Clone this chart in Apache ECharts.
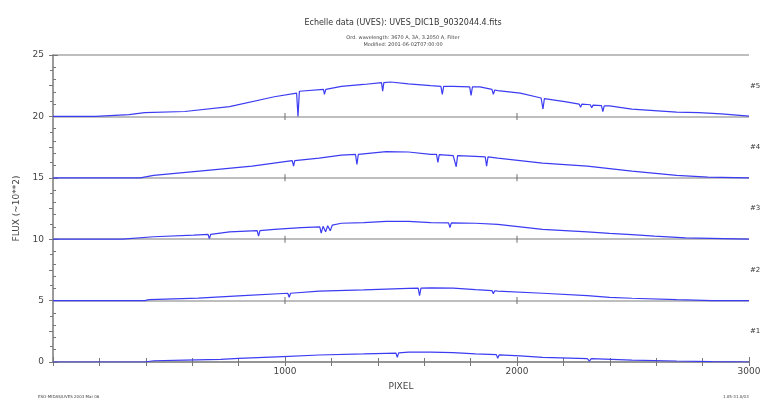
<!DOCTYPE html>
<html>
<head>
<meta charset="utf-8">
<script src="https://cdn.jsdelivr.net/npm/echarts@6/dist/echarts.min.js"></script>
<style>
  html, body { margin: 0; padding: 0; background: #fff; }
  #chart { width: 773px; height: 406px; }
</style>
</head>
<body>
<div id="chart"></div>
<script>
// Extracted echelle orders, flux offset by 5 units per order: [pixel, flux]
const order1 = [
  [0, 0.0], [395, 0.0], [434, 0.1], [568, 0.16], [723, 0.22], [800, 0.3], [992, 0.44],
  [1147, 0.57], [1339, 0.66], [1436, 0.71], [1478, 0.73], [1484, 0.38], [1490, 0.74],
  [1532, 0.8], [1628, 0.8], [1725, 0.77], [1821, 0.66], [1911, 0.6], [1917, 0.3],
  [1923, 0.58], [2014, 0.5], [2110, 0.38], [2303, 0.27], [2312, 0.08], [2320, 0.27],
  [2495, 0.16], [2688, 0.08], [2842, 0.03], [3000, 0.0]
];
const order2 = [
  [0, 5.0], [395, 5.0], [414, 5.08], [626, 5.2], [819, 5.4], [1012, 5.6], [1018, 5.27],
  [1024, 5.6], [1147, 5.77], [1339, 5.87], [1532, 6.0], [1574, 6.02], [1580, 5.4],
  [1586, 6.02], [1628, 6.04], [1725, 6.01], [1821, 5.9], [1892, 5.82], [1898, 5.55],
  [1904, 5.8], [1917, 5.77], [2110, 5.6], [2303, 5.4], [2399, 5.27], [2495, 5.19],
  [2688, 5.08], [2842, 5.0], [3000, 5.0]
];
const order3 = [
  [0, 10.0], [300, 10.0], [434, 10.2], [607, 10.33], [668, 10.4], [674, 10.05], [680, 10.4],
  [761, 10.6], [880, 10.7], [886, 10.25], [892, 10.7], [954, 10.8], [1070, 10.95],
  [1150, 11.0], [1156, 10.5], [1164, 11.05], [1175, 10.6], [1184, 11.1], [1195, 10.68],
  [1204, 11.15], [1243, 11.3], [1339, 11.35], [1436, 11.45], [1532, 11.45], [1628, 11.35],
  [1705, 11.33], [1711, 10.95], [1717, 11.33], [1821, 11.3], [1917, 11.2], [2014, 11.0],
  [2110, 10.8], [2303, 10.6], [2399, 10.47], [2495, 10.38], [2592, 10.25], [2727, 10.1],
  [3000, 10.0]
];
const order4 = [
  [0, 15.0], [376, 15.0], [434, 15.2], [665, 15.6], [858, 15.95], [1031, 16.4], [1037, 15.95],
  [1042, 16.4], [1147, 16.6], [1243, 16.85], [1304, 16.9], [1310, 16.1], [1316, 16.9],
  [1339, 16.95], [1436, 17.13], [1532, 17.1], [1628, 16.9], [1653, 16.9], [1659, 16.25],
  [1665, 16.88], [1725, 16.8], [1732, 16.8], [1738, 15.9], [1744, 16.8], [1821, 16.75],
  [1863, 16.7], [1869, 15.95], [1875, 16.7], [1917, 16.6], [2110, 16.2], [2303, 15.95],
  [2495, 15.55], [2688, 15.2], [2823, 15.05], [3000, 15.0]
];
const order5 = [
  [0, 20.0], [183, 20.0], [328, 20.15], [395, 20.3], [568, 20.4], [761, 20.8], [954, 21.6],
  [1050, 21.9], [1056, 20.0], [1062, 22.05], [1166, 22.2], [1170, 21.8], [1176, 22.2],
  [1243, 22.45], [1339, 22.6], [1416, 22.75], [1421, 22.05], [1426, 22.75], [1455, 22.8],
  [1532, 22.65], [1628, 22.5], [1672, 22.45], [1678, 21.8], [1684, 22.45], [1725, 22.45],
  [1796, 22.4], [1802, 21.7], [1808, 22.4], [1840, 22.4], [1892, 22.2], [1898, 21.8],
  [1904, 22.15], [1917, 22.1], [2014, 21.9], [2104, 21.5], [2112, 20.6], [2118, 21.45],
  [2206, 21.2], [2268, 21.0], [2274, 20.75], [2280, 21.0], [2316, 20.95], [2322, 20.7],
  [2328, 20.92], [2364, 20.88], [2370, 20.4], [2376, 20.86], [2399, 20.85], [2495, 20.6],
  [2688, 20.35], [2784, 20.3], [2881, 20.2], [3000, 20.03]
];
const orderNames = ['#1', '#2', '#3', '#4', '#5'];
const orderMid = [2.5, 7.5, 12.5, 17.5, 22.5];
const xTickLabels = ['1000', '2000', '3000'];
// Little tick marks sitting on each order's zero line
const bandTicks = [
  [1000, 5], [2000, 5], [1000, 10], [2000, 10], [1000, 15], [2000, 15], [1000, 20], [2000, 20]
];

const FONT = 'DejaVu Sans';
const AXIS_GRAY = '#949494';
const LINE_BLUE = '#3c3cf2';

const chart = echarts.init(document.getElementById('chart'), null, { renderer: 'canvas' });

const spectrumSeries = [order1, order2, order3, order4, order5].map((d, i) => ({
  name: orderNames[i],
  type: 'line',
  data: d,
  xAxisIndex: 0,
  yAxisIndex: 0,
  showSymbol: false,
  smooth: false,
  lineStyle: { color: LINE_BLUE, width: 1.2 },
  z: 5,
  silent: true
}));

chart.setOption({
  backgroundColor: '#ffffff',
  animation: false,
  title: [
    {
      text: 'Echelle data (UVES): UVES_DIC1B_9032044.4.fits',
      left: 398, top: 14, textAlign: 'center',
      textStyle: { fontFamily: FONT, fontSize: 8, fontWeight: 'normal', color: '#333' }
    },
    {
      text: 'Ord. wavelength: 3670 A, 3A, 3.2050 A, Filter\nModified: 2001-06-02T07:00:00',
      left: 398, top: 29, textAlign: 'center',
      textStyle: { fontFamily: FONT, fontSize: 5, lineHeight: 7, fontWeight: 'normal', color: '#444' }
    },
    {
      text: 'ESO-MIDAS/UVES 2003 Mar 06',
      left: 33, top: 390,
      textStyle: { fontFamily: FONT, fontSize: 4, fontWeight: 'normal', color: '#444' }
    },
    {
      text: '1.05-31.0/03',
      left: 718, top: 390,
      textStyle: { fontFamily: FONT, fontSize: 4, fontWeight: 'normal', color: '#444' }
    }
  ],
  grid: { left: 53, right: 24, top: 55, bottom: 44, containLabel: false },
  xAxis: [
    {
      type: 'value', position: 'bottom', min: 0, max: 3000, interval: 1000,
      name: 'PIXEL', nameLocation: 'middle', nameGap: 20,
      nameTextStyle: { fontFamily: FONT, fontSize: 9, color: '#444' },
      axisLine: { show: true, lineStyle: { color: AXIS_GRAY, width: 1.5 } },
      axisTick: { show: true, inside: true, length: 5, lineStyle: { color: '#777' } },
      minorTick: { show: true, splitNumber: 5, length: 4, lineStyle: { color: '#777' } },
      axisLabel: {
        fontFamily: FONT, fontSize: 9, color: '#444', margin: 5,
        formatter: v => (xTickLabels.indexOf(String(v)) >= 0 ? String(v) : '')
      },
      splitLine: { show: false }
    },
    {
      type: 'value', position: 'top', min: 0, max: 3000, interval: 200,
      axisLine: { show: true, lineStyle: { color: AXIS_GRAY, width: 1.5 } },
      axisTick: { show: true, inside: true, length: 4, lineStyle: { color: '#777' } },
      axisLabel: { show: false },
      splitLine: { show: false }
    }
  ],
  yAxis: [
    {
      type: 'value', position: 'left', min: 0, max: 25, interval: 5,
      name: 'FLUX (~10**2)', nameLocation: 'middle', nameGap: 30, nameRotate: 90,
      nameTextStyle: { fontFamily: FONT, fontSize: 9, color: '#444' },
      axisLine: { show: true, lineStyle: { color: AXIS_GRAY, width: 1.5 } },
      axisTick: { show: true, inside: true, length: 5, lineStyle: { color: '#777' } },
      minorTick: { show: true, splitNumber: 5, length: 3, lineStyle: { color: '#777' } },
      axisLabel: { fontFamily: FONT, fontSize: 9, color: '#444', margin: 9 },
      splitLine: { show: true, lineStyle: { color: '#a8a8a8', width: 1.5 } }
    },
    {
      type: 'value', position: 'right', min: 0, max: 25, interval: 2.5,
      axisLine: { show: true, lineStyle: { color: AXIS_GRAY, width: 1.5 } },
      axisTick: { show: true, inside: true, length: 4, lineStyle: { color: '#777' } },
      minorTick: { show: true, splitNumber: 2, length: 3, lineStyle: { color: '#777' } },
      axisLabel: {
        margin: 1, fontFamily: FONT, fontSize: 7, color: '#333',
        formatter: v => {
          const k = orderMid.indexOf(v);
          return k >= 0 ? orderNames[k] : '';
        }
      },
      splitLine: { show: false }
    }
  ],
  series: spectrumSeries.concat([
    {
      type: 'scatter',
      data: bandTicks,
      symbol: 'rect',
      symbolSize: [1.2, 7],
      itemStyle: { color: '#666' },
      silent: true,
      z: 4
    }
  ])
});
</script>
</body>
</html>
